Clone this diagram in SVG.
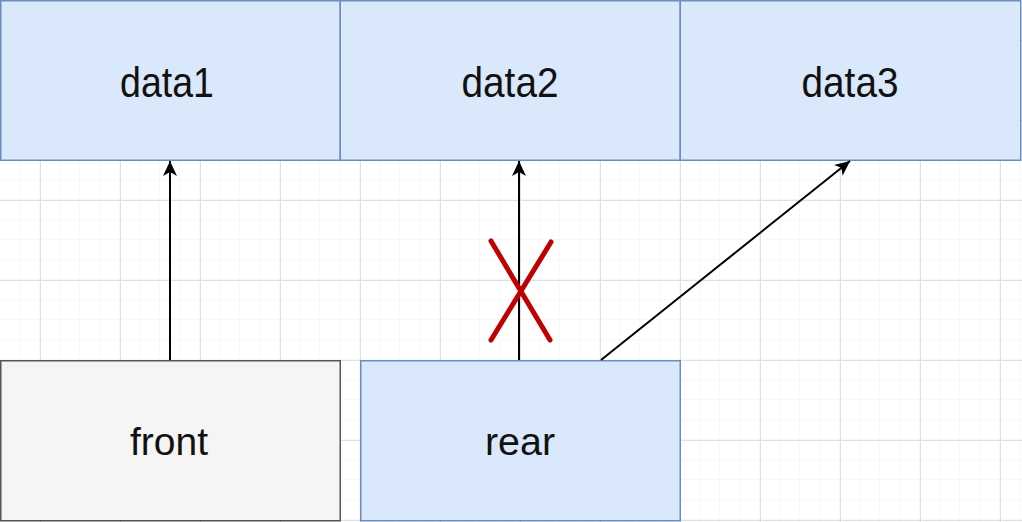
<svg xmlns="http://www.w3.org/2000/svg" width="1022" height="522" viewBox="0 0 1022 522">
<defs>
<pattern id="minor" width="20" height="20" patternUnits="userSpaceOnUse">
<path d="M20 0 V20 M0 20 H20" fill="none" stroke="#eef0f3" stroke-width="1"/>
</pattern>
<pattern id="major" x="40" y="40" width="80" height="80" patternUnits="userSpaceOnUse">
<rect width="80" height="80" fill="url(#minor)"/>
<path d="M0.5 0 V80 M0 0.5 H80" fill="none" stroke="#dde0e5" stroke-width="1"/>
</pattern>
<marker id="arr" viewBox="0 0 16 16" refX="15" refY="8" markerWidth="16" markerHeight="16" markerUnits="userSpaceOnUse" orient="auto">
<path d="M0 1 L15 8 L0 15 L4 8 Z" fill="#000"/>
</marker>
<style>
.blue{fill:#dae8fc;stroke:#6c8ebf;stroke-width:1.5}
.gray{fill:#f5f5f5;stroke:#555;stroke-width:1.5}
.lbl{font-family:"Liberation Sans",Arial,sans-serif;font-size:43px;fill:#111;text-anchor:middle}
.sm{font-size:38px}
.con{fill:none;stroke:#000;stroke-width:2;marker-end:url(#arr)}
.x{stroke:#c00000;stroke-width:5;stroke-linecap:round}
</style>
</defs>
<rect width="1022" height="522" fill="#fff"/>
<rect width="1022" height="522" fill="url(#major)"/>
<g id="data1"><rect class="blue" x="0.75" y="0.75" width="339.5" height="159.5"/><text class="lbl" x="167" y="97" textLength="94" lengthAdjust="spacingAndGlyphs">data1</text></g>
<g id="data2"><rect class="blue" x="340.25" y="0.75" width="340" height="159.5"/><text class="lbl" x="510" y="97" textLength="97" lengthAdjust="spacingAndGlyphs">data2</text></g>
<g id="data3"><rect class="blue" x="680.25" y="0.75" width="340.5" height="159.5"/><text class="lbl" x="850" y="97" textLength="97" lengthAdjust="spacingAndGlyphs">data3</text></g>
<g id="front"><rect class="gray" x="0.75" y="360.75" width="339.5" height="160"/><text class="lbl sm" x="169" y="455" textLength="78" lengthAdjust="spacingAndGlyphs">front</text></g>
<g id="rear"><rect class="blue" x="360.75" y="360.75" width="319.5" height="160"/><text class="lbl sm" x="520" y="455" textLength="70" lengthAdjust="spacingAndGlyphs">rear</text></g>
<g id="connectors">
<path class="con" d="M170 360 V161"/>
<path class="con" d="M519 360 V161"/>
<path class="con" d="M601 360 L850 161"/>
<g id="cross"><line class="x" x1="491" y1="241" x2="550" y2="340"/><line class="x" x1="551" y1="242" x2="491" y2="340"/></g>
</g>
</svg>
